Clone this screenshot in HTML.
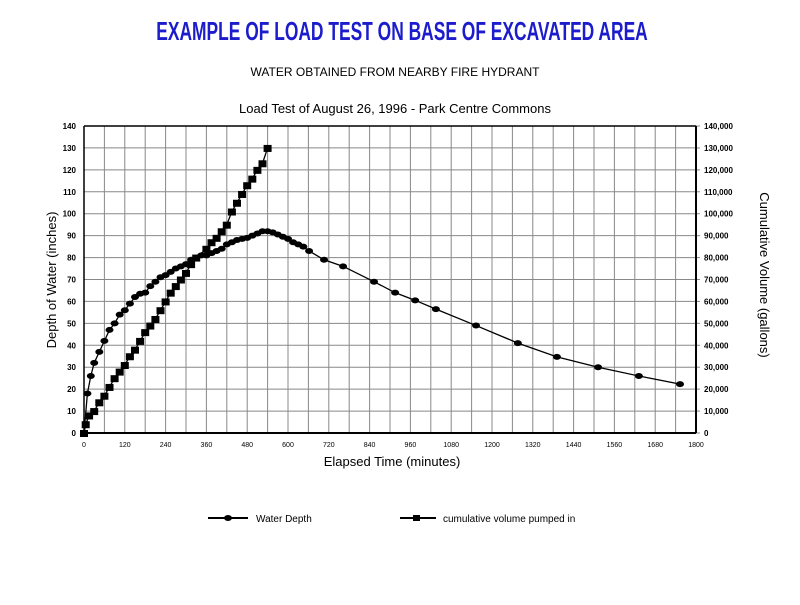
<!DOCTYPE html>
<html><head><meta charset="utf-8"><style>
body{margin:0;background:#fff;width:800px;height:600px;overflow:hidden;font-family:"Liberation Sans",sans-serif}
</style></head><body>
<svg id="chart" width="800" height="600" xmlns="http://www.w3.org/2000/svg">
<text x="402" y="40" text-anchor="middle" font-family="Liberation Sans, sans-serif" font-weight="bold" font-size="26" fill="#1c1ccc" transform="translate(402 0) scale(0.67 1) translate(-402 0)">EXAMPLE OF LOAD TEST ON BASE OF EXCAVATED AREA</text>
<text x="395" y="76" text-anchor="middle" font-size="12" fill="#000">WATER OBTAINED FROM NEARBY FIRE HYDRANT</text>
<text x="395" y="113" text-anchor="middle" font-size="13" fill="#000">Load Test of August 26, 1996 - Park Centre Commons</text>
<g id="grid"></g><g id="axes"></g><g id="series"></g>
<text x="392" y="466" text-anchor="middle" font-size="13">Elapsed Time (minutes)</text>
<text transform="translate(56 280) rotate(-90)" text-anchor="middle" font-size="13">Depth of Water (inches)</text>
<text transform="translate(760 275) rotate(90)" text-anchor="middle" font-size="13">Cumulative Volume (gallons)</text>
<g>
<line x1="208" y1="518" x2="248" y2="518" stroke="#000" stroke-width="2"/>
<ellipse cx="228" cy="518" rx="4" ry="3" fill="#000"/>
<text x="256" y="522" font-size="10">Water Depth</text>
<line x1="400" y1="518" x2="436" y2="518" stroke="#000" stroke-width="2"/>
<rect x="413" y="515" width="7" height="6" fill="#000"/>
<text x="443" y="522" font-size="10">cumulative volume pumped in</text>
</g>
</svg>
<script>
const xTicks=[0,120,240,360,480,600,720,840,960,1080,1200,1320,1440,1560,1680,1800];
const yTicks=[0,10,20,30,40,50,60,70,80,90,100,110,120,130,140];
const yRightLabels=["0","10,000","20,000","30,000","40,000","50,000","60,000","70,000","80,000","90,000","100,000","110,000","120,000","130,000","140,000"];
const depthTimes=[0,10,20,30,45,60,75,90,105,120,135,150,165,180,195,210,225,240,255,270,285,300,315,330,345,360,375,390,405,420,435,450,465,480,495,510,525,540,555,570,585,600,615,630,645,662,706,762,853,915,974,1035,1153,1276,1391,1512,1632,1753];
const depthValues=[0,18,26,32,37,42,47,50,54,56,59,62,63.5,64,67,69,71,72,73.5,75,76,77,79,80,81,81,82,83,84,86,87,88,88.5,89,90,91,92,92,91.5,90.5,89.5,88.5,87,86,85,83,79,76,69,64,60.5,56.5,49,41,34.7,30,26,22.3];
const volTimes=[0,5,15,30,45,60,75,90,105,120,135,150,165,180,195,210,225,240,255,270,285,300,315,330,360,375,390,405,420,435,450,465,480,495,510,525,540];
const volValues=[0,4,8,10,14,17,21,25,28,31,35,38,42,46,49,52,56,60,64,67,70,73,77,80,84,87,89,92,95,101,105,109,113,116,120,123,130];
const X0=84,X1=696,Y0=433,Y1=126;
const xs=t=>X0+(t/1800)*(X1-X0);
const ys=v=>Y0-(v/140)*(Y0-Y1);
const NS="http://www.w3.org/2000/svg";
function mk(tag,attrs,parent){const e=document.createElementNS(NS,tag);for(const k in attrs)e.setAttribute(k,attrs[k]);parent.appendChild(e);return e;}
const grid=document.getElementById('grid'),axes=document.getElementById('axes'),series=document.getElementById('series');
for(let t=60;t<1800;t+=60){const l=mk('line',{x1:xs(t),x2:xs(t),y1:Y1,y2:Y0,stroke:'#888','stroke-width':1},grid);

}
yTicks.forEach((v,i)=>{if(v>0){const l=mk('line',{x1:X0,x2:X1,y1:ys(v),y2:ys(v),stroke:'#888','stroke-width':1},grid);

}
const a=mk('text',{x:X0-8,y:ys(v)+3,'text-anchor':'end','font-size':8,'font-weight':'bold'},axes);a.textContent=v;


const b=mk('text',{x:X1+8,y:ys(v)+3,'font-size':8,'font-weight':'bold'},axes);b.textContent=yRightLabels[i];


mk('line',{x1:X1,x2:X1+4,y1:ys(v),y2:ys(v),stroke:'#888'},axes);});
xTicks.forEach(t=>{const a=mk('text',{x:xs(t),y:Y0+14,'text-anchor':'middle','font-size':7},axes);a.textContent=t;

});
mk('line',{x1:X0,x2:X1,y1:Y1,y2:Y1,stroke:'#000','stroke-width':1.5},axes);
mk('line',{x1:X0,x2:X1,y1:Y0,y2:Y0,stroke:'#000','stroke-width':2},axes);
mk('line',{x1:X0,x2:X0,y1:Y1,y2:Y0,stroke:'#000','stroke-width':1.5},axes);
mk('line',{x1:X1,x2:X1,y1:Y1,y2:Y0,stroke:'#000','stroke-width':2},axes);
const dp=mk('polyline',{points:depthTimes.map((t,i)=>xs(t)+','+ys(depthValues[i])).join(' '),fill:'none',stroke:'#000','stroke-width':1.3},series);


depthTimes.forEach((t,i)=>{const c=mk('ellipse',{cx:xs(t),cy:ys(depthValues[i]),rx:4,ry:3,fill:'#000'},series);

});
const vp=mk('polyline',{points:volTimes.map((t,i)=>xs(t)+','+ys(volValues[i])).join(' '),fill:'none',stroke:'#000','stroke-width':1.3},series);


volTimes.forEach((t,i)=>{const r=mk('rect',{x:xs(t)-4,y:ys(volValues[i])-3,width:8,height:7,fill:'#000'},series);

});
</script>
</body></html>
